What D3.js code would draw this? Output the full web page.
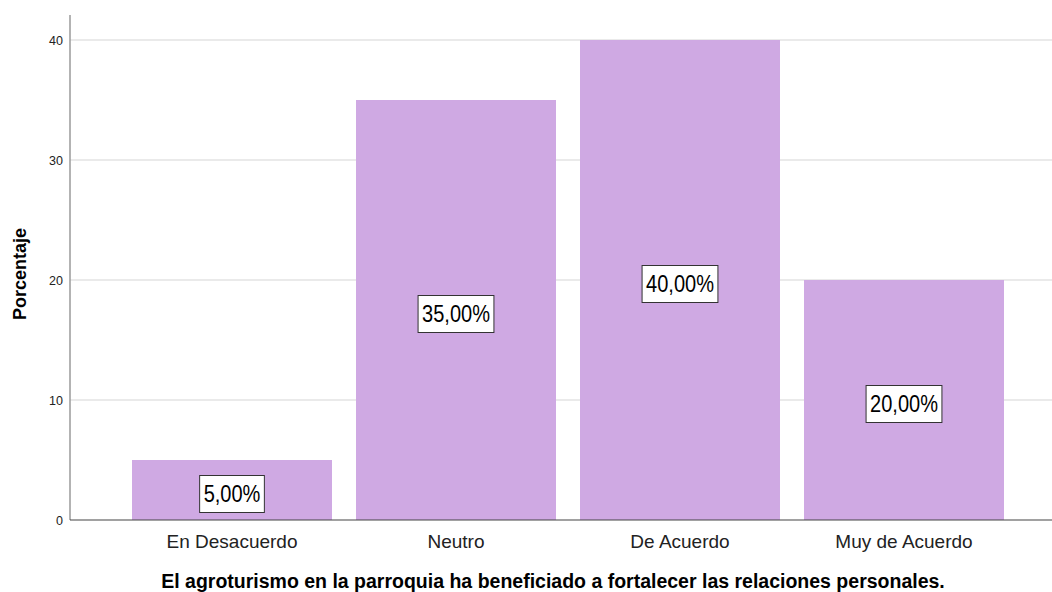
<!DOCTYPE html>
<html><head><meta charset="utf-8">
<script src="https://cdn.jsdelivr.net/npm/d3@7"></script>
<style>body{margin:0;background:#fff}svg{display:block}</style>
</head><body>
<svg id="c" width="1052" height="592"></svg>
<script>
const categories = ["En Desacuerdo", "Neutro", "De Acuerdo", "Muy de Acuerdo"];
const values = [5, 35, 40, 20];
const valueLabels = ["5,00%", "35,00%", "40,00%", "20,00%"];
const yTicks = [0, 10, 20, 30, 40];
const xTitle = "El agroturismo en la parroquia ha beneficiado a fortalecer las relaciones personales.";
const yTitle = "Porcentaje";

const svg = d3.select("#c");
const font = "Arial, 'Liberation Sans', sans-serif";
const x0 = 70, x1 = 1052, yTop = 15, yBot = 520;

const x = d3.scaleBand().domain(categories).range([120, 1016]).paddingInner(24/224).paddingOuter(12/224);
const y = d3.scaleLinear().domain([0, 40]).range([yBot, 40]);

// gridlines
svg.append("g").selectAll("line").data(yTicks.filter(d => d > 0)).join("line")
  .attr("x1", x0).attr("x2", x1).attr("y1", d => y(d)).attr("y2", d => y(d))
  .attr("stroke", "#d6d6d6").attr("stroke-width", 1.2);

// bars
svg.append("g").selectAll("rect").data(values).join("rect")
  .attr("x", (d, i) => x(categories[i])).attr("width", x.bandwidth())
  .attr("y", d => y(d)).attr("height", d => yBot - y(d))
  .attr("fill", "#cfa9e3");

// y axis
const yAxis = svg.append("g").attr("transform", `translate(${x0},0)`)
  .call(d3.axisLeft(y).tickValues(yTicks).tickSize(0).tickPadding(7));
yAxis.select(".domain").remove();
yAxis.selectAll("text").attr("font-family", font).attr("font-size", 12.5).attr("fill", "#222");
svg.append("line").attr("x1", x0).attr("x2", x0).attr("y1", yTop).attr("y2", yBot)
  .attr("stroke", "#9a9a9a").attr("stroke-width", 1.5);

// x axis
const xAxis = svg.append("g").attr("transform", `translate(0,${yBot})`)
  .call(d3.axisBottom(x).tickSize(0).tickPadding(0));
xAxis.select(".domain").remove();
xAxis.selectAll("text").attr("dy", null).attr("y", 28).attr("font-family", font).attr("font-size", 19).attr("fill", "#222");
svg.append("line").attr("x1", x0).attr("x2", x1).attr("y1", yBot).attr("y2", yBot)
  .attr("stroke", "#444").attr("stroke-width", 1.2);

// value labels
const fs = 23, sx = 0.87;
const lab = svg.append("g").selectAll("g").data(values).join("g")
  .attr("transform", (d, i) => `translate(${x(categories[i]) + x.bandwidth()/2},${(y(d) + yBot)/2 + 4})`);
lab.append("text").text((d, i) => valueLabels[i])
  .attr("text-anchor", "middle").attr("y", fs * 0.716 / 2)
  .attr("transform", `scale(${sx},1)`)
  .attr("font-family", font).attr("font-size", fs).attr("fill", "#000");
lab.each(function() {
  const g = d3.select(this);
  const w = g.select("text").node().getComputedTextLength() * sx;
  g.insert("rect", "text").attr("x", -w/2 - 4).attr("y", -18.5).attr("width", w + 8).attr("height", 37)
    .attr("fill", "#fff").attr("stroke", "#333").attr("stroke-width", 1);
});

// titles
svg.append("text").attr("x", 553).attr("y", 588).attr("text-anchor", "middle")
  .attr("font-family", font).attr("font-size", 19.5).attr("font-weight", "bold").text(xTitle);
svg.append("text").attr("transform", "translate(26,274) rotate(-90)").attr("text-anchor", "middle")
  .attr("font-family", font).attr("font-size", 18).attr("font-weight", "bold").text(yTitle);
</script>
</body></html>
